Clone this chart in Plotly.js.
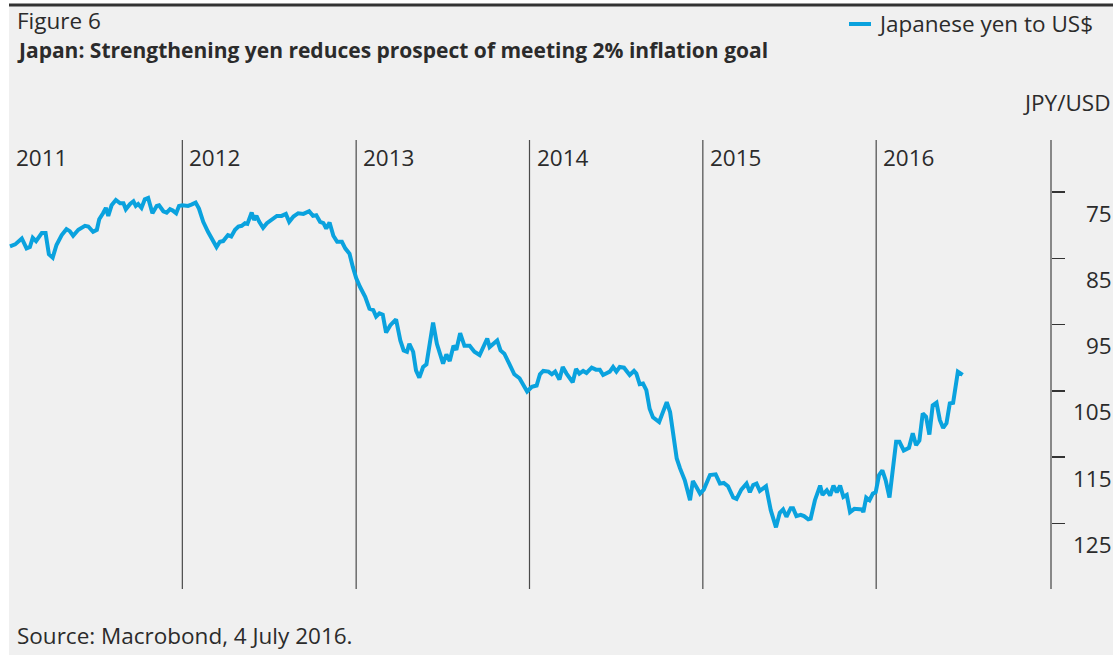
<!DOCTYPE html>
<html>
<head>
<meta charset="utf-8">
<script src="https://cdn.plot.ly/plotly-3.0.1.min.js"></script>
<style>html,body{margin:0;padding:0;background:#fff;}#chart{width:1113px;height:657px;}</style>
</head>
<body>
<div id="chart"></div>
<script>
// ---- data ----
var seriesName = 'Japanese yen to US$';
var dates = [
'2011-01-03','2011-01-14','2011-01-28','2011-02-07','2011-02-14','2011-02-20','2011-02-27','2011-03-11','2011-03-19','2011-03-26','2011-04-03','2011-04-11','2011-04-22','2011-05-02','2011-05-09','2011-05-16','2011-05-27','2011-06-10','2011-06-17','2011-06-27','2011-07-05','2011-07-10','2011-07-18','2011-07-24','2011-07-29','2011-08-05','2011-08-14','2011-08-23','2011-08-30','2011-09-04','2011-09-13','2011-09-20','2011-09-25','2011-09-30','2011-10-07','2011-10-14','2011-10-21','2011-10-30','2011-11-08','2011-11-13','2011-11-22','2011-11-29','2011-12-06','2011-12-12','2011-12-19','2011-12-25',
'2012-01-01','2012-01-13','2012-01-20','2012-01-29','2012-02-05','2012-02-14','2012-02-24','2012-03-06','2012-03-13','2012-03-20','2012-03-27','2012-04-06','2012-04-13','2012-04-21','2012-04-28','2012-05-05','2012-05-12','2012-05-17','2012-05-26','2012-05-31','2012-06-05','2012-06-11','2012-06-19','2012-06-27','2012-07-07','2012-07-18','2012-07-28','2012-08-06','2012-08-13','2012-08-22','2012-09-01','2012-09-12','2012-09-24','2012-10-02','2012-10-09','2012-10-17','2012-10-24','2012-10-30','2012-11-06','2012-11-14','2012-11-22','2012-12-02','2012-12-09','2012-12-18','2012-12-25',
'2013-01-01','2013-01-09','2013-01-20','2013-01-29','2013-02-06','2013-02-12','2013-02-19','2013-02-26','2013-03-05','2013-03-14','2013-03-26','2013-04-04','2013-04-11','2013-04-18','2013-04-23','2013-05-01','2013-05-07','2013-05-14','2013-05-22','2013-05-29','2013-06-12','2013-06-20','2013-07-03','2013-07-10','2013-07-17','2013-07-25','2013-07-31','2013-08-08','2013-08-17','2013-08-28','2013-09-07','2013-09-18','2013-10-04','2013-10-09','2013-10-25','2013-11-01','2013-11-09','2013-11-20','2013-11-30','2013-12-11','2013-12-18','2013-12-27',
'2014-01-06','2014-01-16','2014-01-23','2014-01-30','2014-02-10','2014-02-17','2014-02-24','2014-03-05','2014-03-12','2014-03-20','2014-04-02','2014-04-09','2014-04-16','2014-04-24','2014-05-01','2014-05-12','2014-05-21','2014-05-29','2014-06-05','2014-06-14','2014-06-19','2014-06-26','2014-07-03','2014-07-10','2014-07-19','2014-07-31','2014-08-09','2014-08-14','2014-08-21','2014-08-28','2014-09-04','2014-09-11','2014-09-18','2014-10-01','2014-10-08','2014-10-17','2014-10-24','2014-10-31','2014-11-07','2014-11-14','2014-11-24','2014-12-05','2014-12-11','2014-12-19','2014-12-26',
'2015-01-03','2015-01-16','2015-01-28','2015-02-06','2015-02-14','2015-02-23','2015-03-06','2015-03-13','2015-03-23','2015-04-03','2015-04-10','2015-04-17','2015-04-24','2015-05-01','2015-05-14','2015-05-24','2015-06-04','2015-06-12','2015-06-19','2015-06-26','2015-07-05','2015-07-10','2015-07-17','2015-07-26','2015-08-02','2015-08-11','2015-08-16','2015-08-25','2015-09-05','2015-09-10','2015-09-19','2015-09-26','2015-10-03','2015-10-10','2015-10-17','2015-10-24','2015-10-31','2015-11-07','2015-11-16','2015-12-02','2015-12-05','2015-12-11','2015-12-18','2015-12-25','2015-12-31',
'2016-01-07','2016-01-14','2016-01-21','2016-01-29','2016-02-05','2016-02-12','2016-02-19','2016-02-28','2016-03-10','2016-03-18','2016-03-25','2016-04-01','2016-04-08','2016-04-15','2016-04-22','2016-04-29','2016-05-07','2016-05-14','2016-05-21','2016-05-28','2016-06-04','2016-06-11','2016-06-21','2016-06-27','2016-07-01'
];
var yenPerUsd = [
83.2,82.9,82.0,83.5,83.3,81.9,82.4,81.2,81.2,84.4,84.9,83.0,81.5,80.6,80.9,81.6,80.7,80.1,80.2,81.0,80.7,79.1,78.2,77.4,78.6,77.0,76.2,76.7,76.7,77.6,76.8,76.4,77.1,76.8,77.4,76.1,75.9,78.2,77.1,77.0,77.9,78.1,77.6,77.8,78.2,77.1,
77.0,77.1,76.9,76.6,77.5,79.5,81.0,82.3,83.3,82.5,82.4,81.5,81.7,80.7,80.2,80.1,79.7,79.8,78.1,79.2,78.6,79.5,80.4,79.7,79.2,78.6,78.6,78.3,79.5,78.7,78.2,78.3,77.9,78.6,78.5,79.5,79.7,80.5,79.6,81.6,82.5,82.5,83.5,84.3,86.3,
88.0,89.3,90.8,92.6,92.8,93.8,93.3,93.5,96.2,95.1,94.2,97.4,98.9,99.1,97.9,99.1,101.9,103.0,101.4,101.0,94.7,97.9,100.9,99.5,100.5,98.2,98.8,96.3,98.2,98.2,99.1,99.6,97.1,98.4,97.4,98.9,99.4,101.0,102.5,103.1,104.0,105.1,
104.4,104.2,102.5,102.0,102.1,102.5,102.1,103.3,101.4,102.4,103.7,101.7,102.4,102.0,102.3,101.5,101.8,101.8,102.6,102.2,102.1,101.4,102.1,101.4,101.5,102.6,102.0,102.4,104.0,103.9,104.9,107.7,109.0,109.7,108.2,106.7,108.2,112.0,115.2,116.7,118.5,121.5,118.6,119.6,120.5,
119.9,117.7,117.6,119.0,118.9,119.4,121.1,121.3,119.9,119.0,120.3,119.2,119.0,120.1,119.4,123.0,125.6,123.4,122.9,124.0,122.7,122.7,123.9,123.7,123.9,124.4,124.3,121.5,119.3,120.7,120.0,120.8,119.3,120.3,119.3,121.0,120.7,123.3,122.8,122.9,123.3,121.1,121.5,120.5,120.3,
117.7,117.0,118.5,121.1,117.0,112.7,112.7,114.0,113.6,111.4,113.2,112.5,108.4,108.9,111.6,107.2,106.8,109.4,110.6,109.9,106.9,106.8,102.1,102.4,102.6
];
var yearStarts = ['2011-01-01','2012-01-01','2013-01-01','2014-01-01','2015-01-01','2016-01-01'];
var yearLabels = ['2011','2012','2013','2014','2015','2016'];
var tickValues = [75, 85, 95, 105, 115, 125];
var tickLabels = ['75', '85', '95', '105', '115', '125'];
var figureLabel = 'Figure 6';
var titleText = 'Japan: Strengthening yen reduces prospect of meeting 2% inflation goal';
var unitText = 'JPY/USD';
var sourceText = 'Source: Macrobond, 4 July 2016.';

// ---- layout helpers (pixel -> paper) ----
var W = 1113, H = 657;
var L = 9, R = 63, T = 140, B = 68;
var PW = W - L - R, PH = H - T - B;
function px(x) { return (x - L) / PW; }
function py(y) { return (H - B - y) / PH; }

var FONT = '"Open Sans", Roboto, Arial, sans-serif';
var FS = 22.5;
var TXT = '#2b2b2b';
var LINE = '#0aa2de';

var shapes = [
  {type:'rect', xref:'paper', yref:'paper', x0:px(9), x1:px(1113), y0:py(655), y1:py(5),
   fillcolor:'#f0f0f0', line:{width:0}, layer:'below'},
  {type:'line', xref:'paper', yref:'paper', x0:px(9), x1:px(1113), y0:py(5), y1:py(5),
   line:{color:'#333', width:3}},
  {type:'line', xref:'paper', yref:'paper', x0:px(849), x1:px(871), y0:py(24), y1:py(24),
   line:{color:LINE, width:4}}
];
yearStarts.slice(1).forEach(function (d) {
  shapes.push({type:'line', xref:'x', yref:'paper', x0:d, x1:d, y0:0, y1:1,
               line:{color:'#4a4a4a', width:1.2}, layer:'below'});
});

var annotations = [
  {xref:'paper', yref:'paper', x:px(15), y:py(20), xanchor:'left', yanchor:'middle', showarrow:false,
   text:figureLabel, font:{family:FONT, size:FS, color:TXT}},
  {xref:'paper', yref:'paper', x:px(15), y:py(50), xanchor:'left', yanchor:'middle', showarrow:false,
   text:'<b>' + titleText + '</b>', font:{family:FONT, size:21, color:TXT}},
  {xref:'paper', yref:'paper', x:px(876), y:py(24), xanchor:'left', yanchor:'middle', showarrow:false,
   text:seriesName, font:{family:FONT, size:FS, color:TXT}},
  {xref:'paper', yref:'paper', x:px(1112), y:py(103), xanchor:'right', yanchor:'middle', showarrow:false,
   text:unitText, font:{family:FONT, size:FS, color:TXT}},
  {xref:'paper', yref:'paper', x:px(15), y:py(635), xanchor:'left', yanchor:'middle', showarrow:false,
   text:sourceText, font:{family:FONT, size:FS, color:TXT}}
];
yearStarts.forEach(function (d, i) {
  annotations.push({xref:'x', yref:'paper', x:d, y:py(158), xanchor:'left', yanchor:'middle',
    xshift:5, showarrow:false, text:yearLabels[i], font:{family:FONT, size:FS, color:TXT}});
});
tickValues.forEach(function (v, i) {
  annotations.push({xref:'paper', yref:'y', x:px(1114), y:v, yshift:-21, xanchor:'right', yanchor:'middle',
    showarrow:false, text:tickLabels[i], font:{family:FONT, size:FS, color:TXT}});
});

var trace = {
  type:'scatter', mode:'lines', name:seriesName, x:dates, y:yenPerUsd,
  line:{color:LINE, width:4, shape:'linear'}, hoverinfo:'x+y'
};

var layout = {
  width:W, height:H,
  margin:{l:L, r:R, t:T, b:B, pad:0},
  paper_bgcolor:'#ffffff', plot_bgcolor:'rgba(0,0,0,0)',
  showlegend:false,
  font:{family:FONT, size:FS, color:TXT},
  xaxis:{type:'date', range:['2011-01-01','2017-01-01'], showgrid:false, zeroline:false,
         showline:false, showticklabels:false, ticks:''},
  yaxis:{side:'right', range:[134.9, 67.15], tickmode:'array', tickvals:tickValues,
         showticklabels:false, ticks:'outside', ticklen:13, tickwidth:1.5, tickcolor:'#333',
         showline:true, linecolor:'#888', linewidth:2, showgrid:false, zeroline:false},
  shapes:shapes, annotations:annotations
};

Plotly.newPlot('chart', [trace], layout, {displayModeBar:false, staticPlot:true});
</script>
</body>
</html>
